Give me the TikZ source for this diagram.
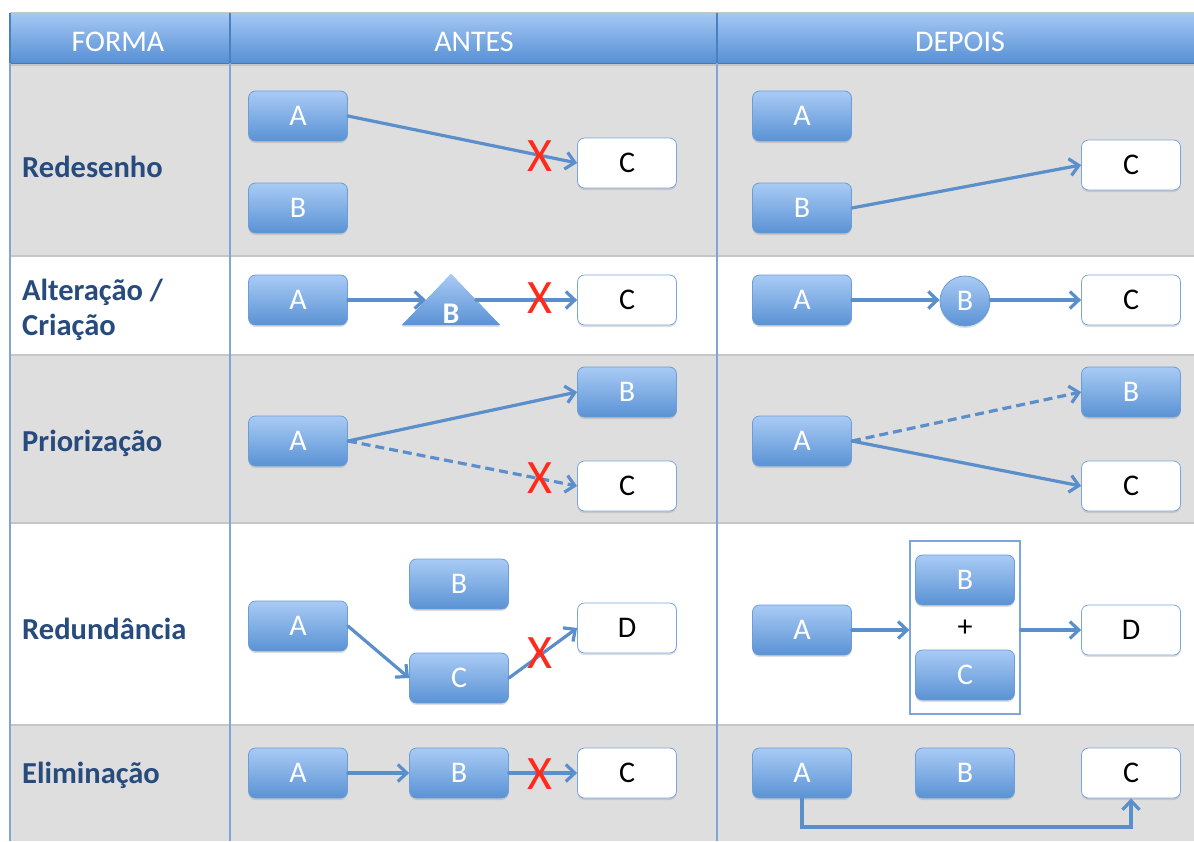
\documentclass[tikz,border=0pt]{standalone}
\usepackage{fontspec}
\setmainfont{Carlito}
\usetikzlibrary{arrows.meta,shadows}

\definecolor{boxtop}{HTML}{A9CBF5}
\definecolor{boxbot}{HTML}{5A92D4}
\definecolor{boxedge}{HTML}{6B9DD6}
\definecolor{whiteedge}{HTML}{7BA6DD}
\definecolor{linkblue}{HTML}{5B8FCC}
\definecolor{gridblue}{HTML}{7FA6D6}
\definecolor{headline}{HTML}{4A7FC0}
\definecolor{rowgray}{HTML}{DEDEDE}
\definecolor{sepgray}{HTML}{C6C6C6}
\definecolor{labelblue}{HTML}{284B7E}
\definecolor{headtop}{HTML}{A5C8F5}
\definecolor{headbot}{HTML}{5690D4}
\definecolor{crossred}{HTML}{FF2A1A}

\newcommand\dgBoxFont{\fontsize{30}{33}\selectfont}
\newcommand\dgLabelFont{\fontsize{30.5}{35}\selectfont\bfseries}
\newcommand\dgHeadFont{\fontsize{30}{33}\selectfont}
\newcommand\dgCrossFont{\fontsize{48}{50}\selectfont}

\begin{document}
\begin{tikzpicture}[x=1pt,y=-1pt,
  bluebox/.style={rectangle, rounded corners=7pt, minimum width=99pt,
    minimum height=50pt, inner sep=0pt, top color=boxtop, bottom color=boxbot,
    draw=boxedge, line width=0.8pt, text=white, font=\dgBoxFont,
    drop shadow={opacity=0.25, shadow xshift=0pt, shadow yshift=-2pt}},
  whitebox/.style={bluebox, top color=white, bottom color=white,
    draw=whiteedge, text=black},
  roundbox/.style={circle, minimum size=50pt, inner sep=0pt, top color=boxtop,
    bottom color=boxbot, draw=boxedge, line width=0.8pt, text=white,
    font=\dgBoxFont, drop shadow={opacity=0.25, shadow xshift=0pt, shadow yshift=-2pt}},
  groupframe/.style={rectangle, draw=whiteedge, fill=white, line width=1.2pt,
    minimum width=110pt, minimum height=173pt, inner sep=0pt},
  link/.style={draw=linkblue, line width=3.2pt, line cap=round,
    -{Straight Barb[length=9pt,width=17pt]}},
  dashedlink/.style={link, line cap=butt, dash pattern=on 9pt off 5pt},
  cross/.style={text=crossred, font=\dgCrossFont, inner sep=0pt},
  rowlabel/.style={anchor=west, text=labelblue, font=\dgLabelFont, align=left, inner sep=0pt},
  headtext/.style={text=white, font=\dgHeadFont},
  plain/.style={text=black, font=\dgBoxFont, inner sep=0pt}
]
\useasboundingbox (0,0) rectangle (1194,841);

% --- table background -------------------------------------------------
\fill[rowgray] (10,63) rectangle (1194,256);
\fill[white]   (10,256) rectangle (1194,355);
\fill[rowgray] (10,355) rectangle (1194,523);
\fill[white]   (10,523) rectangle (1194,725);
\fill[rowgray] (10,725) rectangle (1194,841);
\foreach \yy in {65,256,355,523,725}
  \draw[sepgray, line width=2pt] (10,\yy) -- (1194,\yy);

% header band
\draw[sepgray, line width=1pt] (10,12.5) -- (1194,12.5);
\shade[top color=headtop, bottom color=headbot] (10,13) rectangle (1194,63);
\draw[headbot!85!black, line width=1pt] (10,63) -- (1194,63);

% column rules
\foreach \xx in {10,230,717}
  \draw[gridblue, line width=1.5pt] (\xx,63) -- (\xx,841);
\foreach \xx in {10,230,717}
  \draw[headline, line width=1.5pt] (\xx,13) -- (\xx,63);

\node[headtext] (hForma)  at (118,42) {FORMA};
\node[headtext] (hAntes)  at (474,42) {ANTES};
\node[headtext] (hDepois) at (960,42) {DEPOIS};

% --- row labels ---------------------------------------------------------
\node[rowlabel] (lab1) at (22,167) {Redesenho};
\node[rowlabel] (lab2) at (22,310) {Alteração /\\Criação};
\node[rowlabel] (lab3) at (22,443) {Priorização};
\node[rowlabel] (lab4) at (22,629) {Redundância};
\node[rowlabel] (lab5) at (22,775) {Eliminação};

% --- Redesenho -----------------------------------------------------------
\node[bluebox]  (r1aA) at (298,116) {A};
\node[bluebox]  (r1aB) at (298,208) {B};
\node[whitebox] (r1aC) at (627,163) {C};
\node[bluebox]  (r1dA) at (802,116) {A};
\node[bluebox]  (r1dB) at (802,208) {B};
\node[whitebox] (r1dC) at (1131,165) {C};
\draw[link] (r1aA.east) -- (r1aC.west);
\draw[link] (r1dB.east) -- (r1dC.west);
\node[cross] (x1) at (540,156) {X};

% --- Alteração / Criação ------------------------------------------------
\node[bluebox]  (r2aA) at (298,300) {A};
\fill[boxbot!80!white, drop shadow={opacity=0.25, shadow xshift=0pt, shadow yshift=-2pt}]
  (451,274) -- (500,325) -- (402,325) -- cycle;
\shade[top color=boxtop, bottom color=boxbot] (451,274) -- (500,325) -- (402,325) -- cycle;
\coordinate (r2aTl) at (426,300);
\coordinate (r2aTr) at (476,300);
\node[text=white, font=\dgBoxFont\bfseries, inner sep=0pt] (r2aB) at (451,314) {B};
\node[whitebox] (r2aC) at (627,300) {C};
\draw[link] (r2aA.east) -- (r2aTl);
\draw[link] (r2aTr) -- (r2aC.west);
\node[cross] (x2) at (540,298) {X};

\node[bluebox]  (r2dA) at (802,300) {A};
\node[roundbox] (r2dB) at (965,301) {B};
\node[whitebox] (r2dC) at (1131,300) {C};
\draw[link] (r2dA.east) -- (r2dA.east -| r2dB.west);
\draw[link] (r2dC.west -| r2dB.east) -- (r2dC.west);

% --- Priorização ----------------------------------------------------------
\node[bluebox]  (r3aA) at (298,441) {A};
\node[bluebox]  (r3aB) at (627,392) {B};
\node[whitebox] (r3aC) at (627,486) {C};
\draw[link] (r3aA.east) -- (r3aB.west);
\draw[dashedlink] (r3aA.east) -- (r3aC.west);
\node[cross] (x3) at (540,478) {X};

\node[bluebox]  (r3dA) at (802,441) {A};
\node[bluebox]  (r3dB) at (1131,392) {B};
\node[whitebox] (r3dC) at (1131,486) {C};
\draw[dashedlink] (r3dA.east) -- (r3dB.west);
\draw[link] (r3dA.east) -- (r3dC.west);

% --- Redundância ----------------------------------------------------------
\node[bluebox]  (r4aA) at (298,626) {A};
\node[bluebox]  (r4aB) at (459,584) {B};
\node[bluebox]  (r4aC) at (459,678) {C};
\node[whitebox] (r4aD) at (627,628) {D};
\draw[link] (r4aA.east) -- (r4aC.west);
\draw[link] (r4aC.east) -- (r4aD.west);
\node[cross] (x4) at (540,653) {X};

\node[bluebox]  (r4dA) at (802,630) {A};
\node[groupframe] (r4dG) at (965,627.5) {};
\node[bluebox]  (r4dB) at (965,580) {B};
\node[plain]    (r4dP) at (965,628) {+};
\node[bluebox]  (r4dC) at (965,675) {C};
\node[whitebox] (r4dD) at (1131,630) {D};
\draw[link] (r4dA.east) -- (r4dG.west |- r4dA.east);
\draw[link] (r4dG.east |- r4dD.west) -- (r4dD.west);

% --- Eliminação -----------------------------------------------------------
\node[bluebox]  (r5aA) at (298,773) {A};
\node[bluebox]  (r5aB) at (459,773) {B};
\node[whitebox] (r5aC) at (627,773) {C};
\draw[link] (r5aA.east) -- (r5aB.west);
\draw[link] (r5aB.east) -- (r5aC.west);
\node[cross] (x5) at (540,774) {X};

\node[bluebox]  (r5dA) at (802,773) {A};
\node[bluebox]  (r5dB) at (965,773) {B};
\node[whitebox] (r5dC) at (1131,773) {C};
\coordinate (r5dBend) at (802,827);
\draw[link, line cap=butt] (r5dA.south) -- (r5dBend) -| (r5dC.south);
\end{tikzpicture}
\end{document}
